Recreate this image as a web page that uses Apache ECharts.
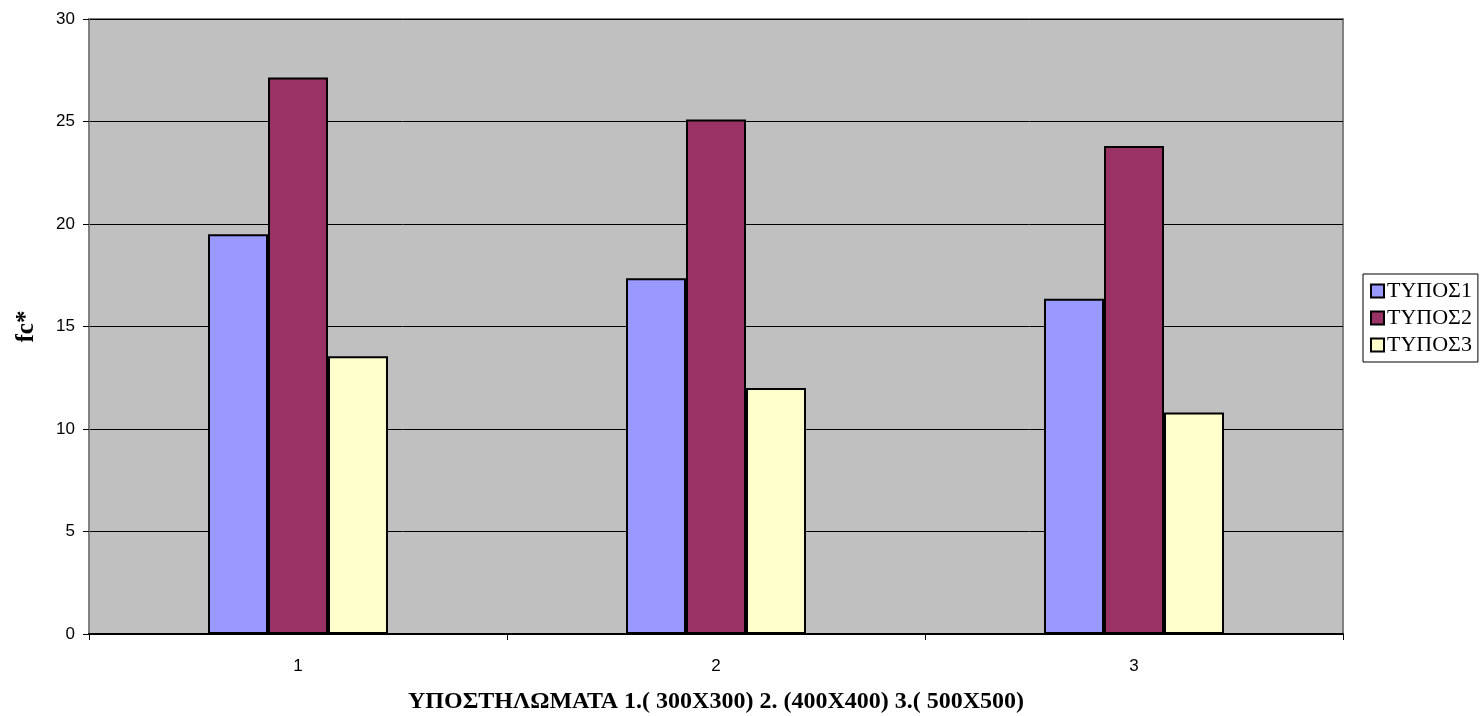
<!DOCTYPE html>
<html><head><meta charset="utf-8">
<script src="https://cdn.jsdelivr.net/npm/echarts@6/dist/echarts.min.js"></script>
<style>html,body{margin:0;padding:0;background:#fff}#c{width:1480px;height:716px}</style>
</head><body><div id="c"></div>
<script>
const categories = ['1', '2', '3'];
const seriesNames = ['ΤΥΠΟΣ1', 'ΤΥΠΟΣ2', 'ΤΥΠΟΣ3'];
const typos1 = [19.5, 17.35, 16.35];
const typos2 = [27.15, 25.1, 23.8];
const typos3 = [13.55, 12.0, 10.8];
const colors = ['#9999FF', '#993366', '#FFFFCC'];
const values = [typos1, typos2, typos3];

const chart = echarts.init(document.getElementById('c'));
chart.setOption({
  animation: false,
  grid: { left: 89, top: 19, width: 1254, height: 615, containLabel: false, outerBoundsMode: 'none', show: true, backgroundColor: '#C0C0C0', borderColor: '#808080', borderWidth: 2 },
  legend: {
    orient: 'vertical', left: 1363, top: 274,
    icon: 'rect',
    itemWidth: 13, itemHeight: 13, itemGap: 5,
    borderColor: '#000', borderWidth: 1, padding: [6, 6, 6, 7],
    textStyle: { fontFamily: 'Liberation Serif', fontSize: 22, color: '#000', padding: [0, 0, 0, -2] },
    data: seriesNames.map(n => ({ name: n, itemStyle: { borderColor: '#000', borderWidth: 2 } }))
  },
  xAxis: {
    type: 'category', data: categories,
    name: 'ΥΠΟΣΤΗΛΩΜΑΤΑ 1.( 300X300) 2. (400X400) 3.( 500X500)',
    nameLocation: 'middle', nameGap: 56,
    nameTextStyle: { fontFamily: 'Liberation Serif', fontWeight: 'bold', fontSize: 24, color: '#000' },
    axisLine: { lineStyle: { color: '#000', width: 2 } },
    axisTick: { show: true, length: 6, lineStyle: { color: '#000' } },
    axisLabel: { fontFamily: 'Liberation Sans', fontSize: 17, color: '#000', margin: 24 },
    splitLine: { show: false }
  },
  yAxis: {
    type: 'value', min: 0, max: 30, interval: 5,
    name: 'fc*', nameLocation: 'middle', nameGap: 50, nameRotate: 90,
    nameTextStyle: { fontFamily: 'Liberation Serif', fontWeight: 'bold', fontSize: 25, color: '#000' },
    axisLine: { show: true, lineStyle: { color: '#808080', width: 2 } },
    axisTick: { show: true, length: 6, lineStyle: { color: '#000' } },
    axisLabel: { fontFamily: 'Liberation Sans', fontSize: 17, color: '#000', margin: 14 },
    splitLine: { show: true, lineStyle: { color: '#000', width: 1 } }
  },
  series: seriesNames.map((n, i) => ({
    name: n, type: 'bar', data: values[i], barWidth: 60, barGap: '0%',
    itemStyle: { color: colors[i], borderColor: '#000', borderWidth: 2 }
  }))
});
</script></body></html>
